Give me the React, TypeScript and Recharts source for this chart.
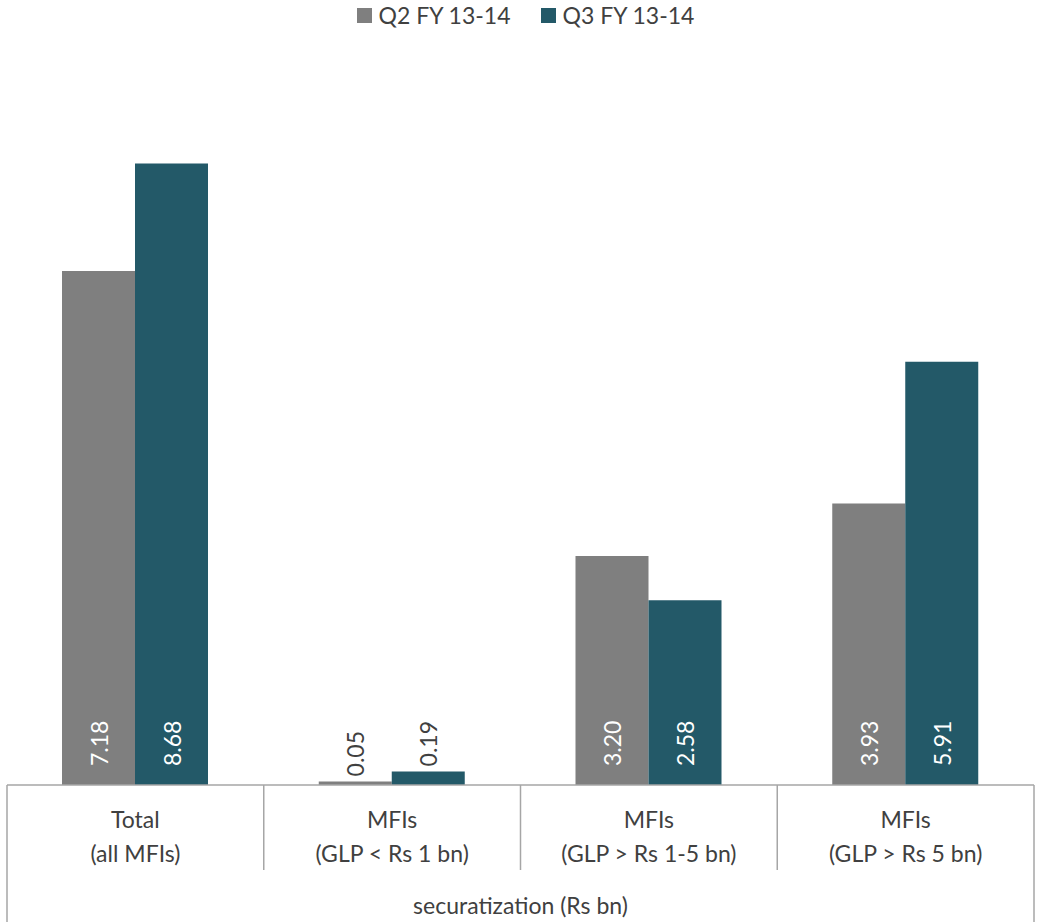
import React from 'react';
import { BarChart, Bar, XAxis, YAxis, Legend, LabelList } from 'recharts';

// Securitization volumes by MFI size class (Rs bn)
const categories = ['Total|(all MFIs)', 'MFIs|(GLP < Rs 1 bn)', 'MFIs|(GLP > Rs 1-5 bn)', 'MFIs|(GLP > Rs 5 bn)'];
const q2Values = [7.18, 0.05, 3.2, 3.93];
const q3Values = [8.68, 0.19, 2.58, 5.91];
const seriesNames = ['Q2 FY 13-14', 'Q3 FY 13-14'];
const groupLabel = 'securatization (Rs bn)';

const data = categories.map((c, i) => ({ name: c, q2: q2Values[i], q3: q3Values[i] }));

const W = 1037;
const H = 922;
const MARGIN = { top: 69, right: 3, bottom: 0, left: 7 };
const AXIS_H = 137;
const FONT = 'Lato, "Open Sans", sans-serif';
const TEXT = '#404040';
const GRID = '#A6A6A6';
const COLORS = ['#7F7F7F', '#235968'];
const BAND = (W - MARGIN.left - MARGIN.right) / categories.length;

const CategoryTick = (props: any) => {
  const { x, y, payload, index } = props;
  const [l1, l2] = String(payload.value).split('|');
  const left = x - BAND / 2;
  const right = x + BAND / 2;
  const last = index === categories.length - 1;
  return (
    <g>
      <line x1={left} x2={left} y1={y} y2={index === 0 ? H : y + 85} stroke={GRID} strokeWidth={1.5} />
      {last && <line x1={right} x2={right} y1={y} y2={H} stroke={GRID} strokeWidth={1.5} />}
      <text x={x} y={y + 43} textAnchor="middle" fontFamily={FONT} fontSize={23} fill={TEXT}>
        {l1}
      </text>
      <text x={x} y={y + 77} textAnchor="middle" fontFamily={FONT} fontSize={23} fill={TEXT}>
        {l2}
      </text>
    </g>
  );
};

const makeValueLabel = () => (props: any) => {
  const { x, y, width, height, value } = props;
  const cx = x + width / 2;
  const inside = height > 60;
  const ty = inside ? y + height - 19 : y - 5;
  return (
    <text
      x={cx}
      y={ty}
      transform={`rotate(-90, ${cx}, ${ty})`}
      textAnchor="start"
      dominantBaseline="central"
      fontFamily={FONT}
      fontSize={23}
      fill={inside ? '#FFFFFF' : TEXT}
    >
      {Number(value).toFixed(2)}
    </text>
  );
};

const LegendContent = () => (
  <div
    style={{
      display: 'flex',
      justifyContent: 'center',
      alignItems: 'center',
      gap: 30,
      paddingLeft: 14,
      fontFamily: FONT,
      fontSize: 23,
      color: TEXT,
    }}
  >
    {seriesNames.map((n, i) => (
      <div key={n} style={{ display: 'flex', alignItems: 'center', gap: 7 }}>
        <span style={{ width: 15, height: 15, background: COLORS[i], display: 'inline-block' }} />
        <span>{n}</span>
      </div>
    ))}
  </div>
);

export default function App() {
  return (
    <div style={{ position: 'absolute', left: 0, top: 0, width: W, height: H, background: '#fff' }}>
      <BarChart width={W} height={H} data={data} margin={MARGIN} barGap={0} barSize={73}>
        <YAxis hide domain={[0, 10]} />
        <XAxis
          dataKey="name"
          height={AXIS_H}
          tickSize={0}
          tickMargin={0}
          axisLine={{ stroke: GRID, strokeWidth: 1.5 }}
          tickLine={false}
          tick={<CategoryTick />}
          interval={0}
          label={{
            value: groupLabel,
            position: 'insideBottom',
            offset: 8,
            fontFamily: FONT,
            fontSize: 23,
            fill: TEXT,
          }}
        />
        <Legend
          layout="horizontal"
          verticalAlign="middle"
          align="center"
          wrapperStyle={{ top: 1, left: 0, width: W }}
          content={<LegendContent />}
        />
        <Bar dataKey="q2" name={seriesNames[0]} fill={COLORS[0]} isAnimationActive={false}>
          <LabelList dataKey="q2" content={makeValueLabel()} />
        </Bar>
        <Bar dataKey="q3" name={seriesNames[1]} fill={COLORS[1]} isAnimationActive={false}>
          <LabelList dataKey="q3" content={makeValueLabel()} />
        </Bar>
      </BarChart>
    </div>
  );
}
